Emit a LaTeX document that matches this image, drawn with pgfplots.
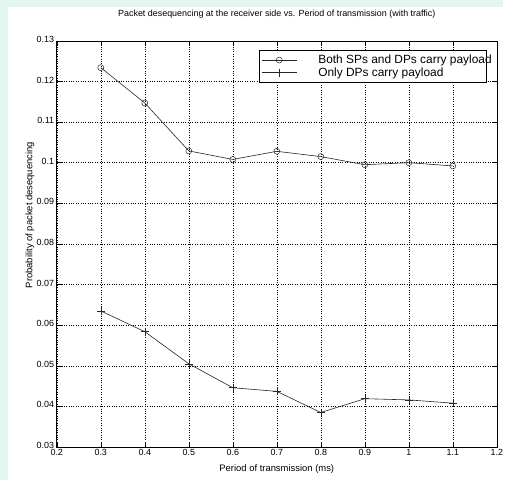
\documentclass[border=0pt]{standalone}
\usepackage{fontspec}
\setmainfont{Liberation Sans}
\usepackage{pgfplots}
\pgfplotsset{compat=1.18}
\definecolor{bggreen}{HTML}{E2F6F1}

\begin{document}
\begin{tikzpicture}
% page background: green strip on the left and top, white panel
\fill[bggreen] (-57bp,-33bp) rectangle (448bp,449bp);
\fill[white] (-49bp,-33bp) rectangle (448bp,442bp);
\begin{axis}[
    at={(0,0)}, anchor=south west,
    scale only axis,
    width=442bp, height=408bp,
    xmin=0.2, xmax=1.2,
    ymin=0.03, ymax=0.13,
    xtick={0.2,0.3,0.4,0.5,0.6,0.7,0.8,0.9,1,1.1,1.2},
    xticklabels={0.2,0.3,0.4,0.5,0.6,0.7,0.8,0.9,1,1.1,1.2},
    ytick={0.03,0.04,0.05,0.06,0.07,0.08,0.09,0.1,0.11,0.12,0.13},
    yticklabels={0.03,0.04,0.05,0.06,0.07,0.08,0.09,0.1,0.11,0.12,0.13},
    tick align=inside,
    major tick length=5bp,
    tick style={black, line width=0.5bp},
    axis line style={black, line width=0.6bp},
    grid=major,
    grid style={black, dotted, line width=0.5bp},
    ticklabel style={font=\fontsize{9}{10}\selectfont},
    xticklabel style={inner sep=2bp},
    yticklabel style={inner sep=2.5bp, yshift=1.5bp},
    title={Packet desequencing at the receiver side vs. Period of transmission (with traffic)},
    title style={font=\fontsize{9}{10}\selectfont, at={(axis description cs:0.5,1.0515)}, anchor=center},
    xlabel={Period of transmission (ms)},
    xlabel style={font=\fontsize{9.5}{10}\selectfont, at={(axis description cs:0.5,-0.054)}, anchor=center},
    ylabel={Probability of packet desequencing},
    ylabel style={font=\fontsize{9.5}{10}\selectfont, at={(axis description cs:-0.061,0.571)}, anchor=center},
    legend cell align=left,
    legend style={
        at={(0.459,0.978)}, anchor=north west,
        draw=black, line width=0.6bp,
        font=\fontsize{12}{10}\selectfont,
        row sep=-1.5bp, inner xsep=3bp, inner ysep=3bp,
    },
    legend image code/.code={
        \draw[mark repeat=2, mark phase=2] plot coordinates {(0bp,0bp) (17bp,0bp) (35bp,0bp)};
    },
]
\addplot[black!85, line width=0.6bp, mark=o, mark size=3bp, mark options={line width=0.5bp}] coordinates {
(0.3,0.1234)
(0.4,0.1147)
(0.5,0.1029)
(0.6,0.1008)
(0.7,0.1028)
(0.8,0.1015)
(0.9,0.0995)
(1.0,0.1000)
(1.1,0.0992)
};
\addlegendentry{\hspace{19bp}\makebox[164bp][l]{Both SPs and DPs carry payload}}
\addplot[black!85, line width=0.6bp, mark=+, mark size=4bp, mark options={line width=0.5bp}] coordinates {
(0.3,0.0635)
(0.4,0.0584)
(0.5,0.0505)
(0.6,0.0446)
(0.7,0.0437)
(0.8,0.0385)
(0.9,0.0419)
(1.0,0.0416)
(1.1,0.0408)
};
\addlegendentry{\hspace{19bp}\makebox[164bp][l]{Only DPs carry payload}}
\end{axis}
\end{tikzpicture}
\end{document}
